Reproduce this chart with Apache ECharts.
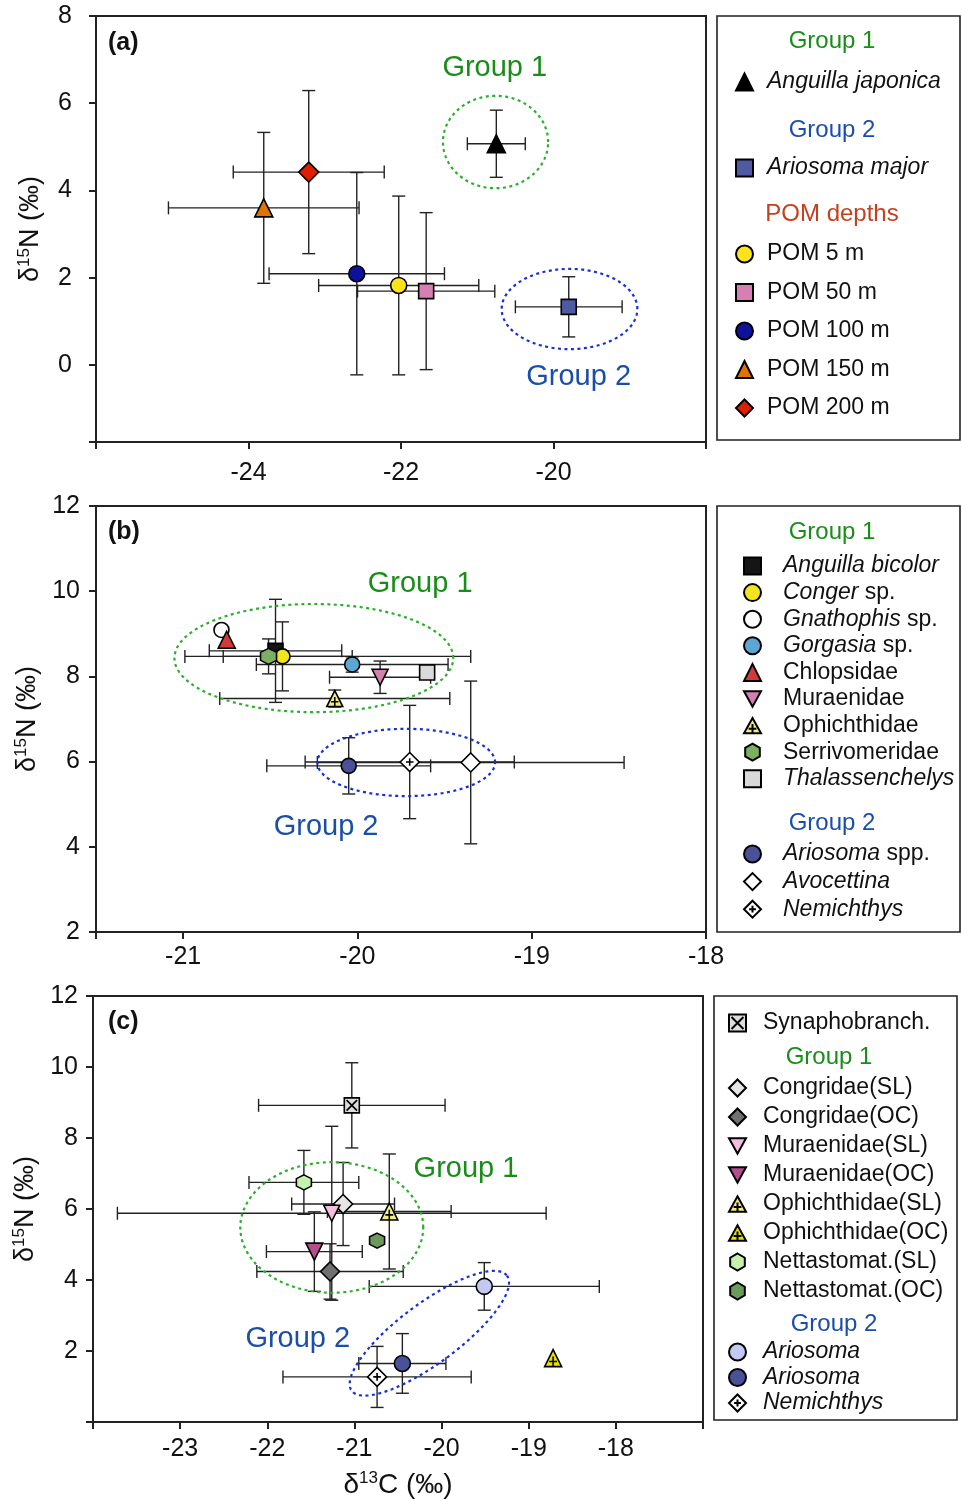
<!DOCTYPE html>
<html>
<head>
<meta charset="utf-8">
<script src="https://cdn.jsdelivr.net/npm/echarts@6/dist/echarts.min.js"></script>
<style>
html, body { margin: 0; padding: 0; background: #fff; }
#chart { width: 962px; height: 1501px; }
</style>
</head>
<body>
<div id="chart"></div>
<script>
const FONT = '"Liberation Sans", Arial, Helvetica, sans-serif';

// ---- panel (a) ----
const aNames = ['Anguilla japonica', 'Ariosoma major', 'POM 5 m', 'POM 50 m', 'POM 100 m', 'POM 150 m', 'POM 200 m'];
const aLabels = ['{i|Anguilla japonica}', '{i|Ariosoma major}', 'POM 5 m', 'POM 50 m', 'POM 100 m', 'POM 150 m', 'POM 200 m'];
const aX = [-20.75, -19.80, -22.03, -21.67, -22.58, -23.80, -23.21];
const aY = [5.07, 1.33, 1.82, 1.69, 2.09, 3.60, 4.42];
const aXErr = [0.38, 0.70, 1.05, 0.90, 1.15, 1.25, 0.99];
const aYErr = [0.77, 0.69, 2.05, 1.80, 2.32, 1.73, 1.87];
const aXTicks = [-24, -22, -20];
const aYTicks = [0, 2, 4, 6, 8];
// ellipse: centre x, centre y, then two half-axis vectors (data units)
const aEllipses = [[-20.76, 5.11, 0.69, 0, 0, 1.06], [-19.79, 1.28, 0.89, 0, 0, 0.92]];
const aNotes = [[-20.77, 6.80], [-19.67, -0.27]];

// ---- panel (b) ----
const bNames = ['Anguilla bicolor', 'Conger sp.', 'Gnathophis sp.', 'Gorgasia sp.', 'Chlopsidae', 'Muraenidae', 'Ophichthidae', 'Serrivomeridae', 'Thalassenchelys', 'Ariosoma spp.', 'Avocettina', 'Nemichthys'];
const bLabels = ['{i|Anguilla bicolor}', '{i|Conger} sp.', '{i|Gnathophis} sp.', '{i|Gorgasia} sp.', 'Chlopsidae', 'Muraenidae', 'Ophichthidae', 'Serrivomeridae', '{i|Thalassenchelys}', '{i|Ariosoma} spp.', '{i|Avocettina}', '{i|Nemichthys}'];
const bX = [-20.47, -20.43, -20.78, -20.03, -20.75, -19.87, -20.13, -20.51, -19.60, -20.05, -19.35, -19.70];
const bY = [8.60, 8.47, 9.09, 8.28, 8.86, 7.98, 7.48, 8.47, 8.09, 5.90, 5.98, 5.99];
// x error bars in (b) are not symmetric for every taxon: lower and upper parts
const bXErrLo = [0.38, 0.34, 0, 0.55, 0, 0.29, 0.66, 0.48, 0.03, 0.47, 0.88, 0.60];
const bXErrHi = [0.38, 1.08, 0, 0.55, 0, 0.29, 0.66, 0.48, 0.03, 0.47, 0.88, 0.60];
const bYErr = [1.21, 0.81, 0, 0.18, 0, 0.38, 0.20, 0.41, 0.10, 0.66, 1.91, 1.33];
const bXTicks = [-21, -20, -19, -18];
const bYTicks = [2, 4, 6, 8, 10, 12];
const bEllipses = [[-20.25, 8.43, 0.80, 0, 0, 1.27], [-19.72, 5.98, 0.51, 0, 0, 0.79]];
const bNotes = [[-19.64, 10.18], [-20.18, 4.46]];

// ---- panel (c) ----
const cNames = ['Synaphobranch.', 'Congridae(SL)', 'Congridae(OC)', 'Muraenidae(SL)', 'Muraenidae(OC)', 'Ophichthidae(SL)', 'Ophichthidae(OC)', 'Nettastomat.(SL)', 'Nettastomat.(OC)', 'Ariosoma SL', 'Ariosoma OC', 'Nemichthys'];
const cLabels = ['Synaphobranch.', 'Congridae(SL)', 'Congridae(OC)', 'Muraenidae(SL)', 'Muraenidae(OC)', 'Ophichthidae(SL)', 'Ophichthidae(OC)', 'Nettastomat.(SL)', 'Nettastomat.(OC)', '{i|Ariosoma}', '{i|Ariosoma}', '{i|Nemichthys}'];
const cX = [-21.03, -21.13, -21.28, -21.26, -21.46, -20.60, -18.72, -21.58, -20.74, -19.51, -20.45, -20.74];
const cY = [8.92, 6.14, 4.24, 5.88, 4.80, 5.93, 1.80, 6.75, 5.11, 3.82, 1.65, 1.27];
const cXErr = [1.07, 0.59, 0.84, 2.46, 0.55, 0.71, 0, 0.63, 0, 1.32, 0.50, 1.08];
const cYErr = [1.20, 1.17, 0.78, 2.45, 1.12, 1.62, 0, 0.90, 0, 0.67, 0.84, 0.86];
const cXTicks = [-23, -22, -21, -20, -19, -18];
const cYTicks = [2, 4, 6, 8, 10, 12];
const cEllipses = [[-21.26, 5.48, 1.05, 0, 0, 1.84], [-20.14, 2.50, 0.89, 1.625, 0.21, -0.67]];
const cNotes = [[-19.72, 7.12], [-21.65, 2.35]];

const noteTexts = ['Group 1', 'Group 2'];

// symbols
const INV_TRI = 'path://M0,0L10,0L5,9Z';
const HEX = 'path://M5,0L9.3,2.5L9.3,7.5L5,10L0.7,7.5L0.7,2.5Z';
const OPH = 'path://M5,0L10,9L0,9Z M5,3.6L5,9 M2.7,6.3L7.3,6.3';
const NEMI = 'path://M5,0L10,5L5,10L0,5Z M5,3L5,7 M3,5L7,5';
const XSQ = 'path://M0,0L10,0L10,10L0,10Z M1.5,1.5L8.5,8.5 M8.5,1.5L1.5,8.5';

const GREEN = '#1a8c1a';
const BLUE = '#1a4ea8';
const ellipseColors = ['#2bb02b', '#1530d6'];

const panels = [
  { key: 'a', names: aNames, labels: aLabels, x: aX, y: aY, xlo: aXErr, xhi: aXErr, ye: aYErr, ellipses: aEllipses, notes: aNotes,
    symbols: ['triangle', 'rect', 'circle', 'rect', 'circle', 'triangle', 'diamond'],
    colors: ['#000000', '#4f5aa3', '#ffe31a', '#d77fb3', '#0d119c', '#e07400', '#e01e00'],
    sizes: [18, 15, 16, 15, 16, 18, 20] },
  { key: 'b', names: bNames, labels: bLabels, x: bX, y: bY, xlo: bXErrLo, xhi: bXErrHi, ye: bYErr, ellipses: bEllipses, notes: bNotes,
    symbols: ['rect', 'circle', 'circle', 'circle', 'triangle', INV_TRI, OPH, HEX, 'rect', 'circle', 'diamond', NEMI],
    colors: ['#151515', '#f2e51f', '#ffffff', '#5aa7d3', '#d23a3a', '#d47fae', '#f1ee7c', '#7bb062', '#d9d9d9', '#4a5199', '#ffffff', '#ffffff'],
    sizes: [15, 15, 15, 15, 17, 16, 16, 16, 15, 15, 19, 19] },
  { key: 'c', names: cNames, labels: cLabels, x: cX, y: cY, xlo: cXErr, xhi: cXErr, ye: cYErr, ellipses: cEllipses, notes: cNotes,
    symbols: [XSQ, 'diamond', 'diamond', INV_TRI, INV_TRI, OPH, OPH, HEX, HEX, 'circle', 'circle', NEMI],
    colors: ['#dddddd', '#e3e6e3', '#707070', '#f5bedc', '#b24f8c', '#f2ee8a', '#e8e000', '#c4f2ad', '#6b9a59', '#c3c9f0', '#4a5199', '#ffffff'],
    sizes: [15, 19, 19, 16, 17, 17, 17, 15, 15, 16, 16, 19] }
];

const labelMap = {};
const series = [];

panels.forEach((p, g) => {
  // error bars
  series.push({
    type: 'custom', xAxisIndex: g, yAxisIndex: g, z: 3, silent: true,
    data: p.x.map((v, i) => [v, p.y[i], p.xlo[i], p.xhi[i], p.ye[i]]),
    renderItem(params, api) {
      const x = api.value(0), y = api.value(1), lo = api.value(2), hi = api.value(3), ey = api.value(4);
      const st = { stroke: '#222', lineWidth: 1.4 };
      const cap = 6.5;
      const kids = [];
      if (lo > 0 || hi > 0) {
        const l = api.coord([x - lo, y]), r = api.coord([x + hi, y]);
        kids.push({ type: 'line', shape: { x1: l[0], y1: l[1], x2: r[0], y2: r[1] }, style: st });
        kids.push({ type: 'line', shape: { x1: l[0], y1: l[1] - cap, x2: l[0], y2: l[1] + cap }, style: st });
        kids.push({ type: 'line', shape: { x1: r[0], y1: r[1] - cap, x2: r[0], y2: r[1] + cap }, style: st });
      }
      if (ey > 0) {
        const t = api.coord([x, y + ey]), b = api.coord([x, y - ey]);
        kids.push({ type: 'line', shape: { x1: t[0], y1: t[1], x2: b[0], y2: b[1] }, style: st });
        kids.push({ type: 'line', shape: { x1: t[0] - cap, y1: t[1], x2: t[0] + cap, y2: t[1] }, style: st });
        kids.push({ type: 'line', shape: { x1: b[0] - cap, y1: b[1], x2: b[0] + cap, y2: b[1] }, style: st });
      }
      return { type: 'group', children: kids };
    }
  });
  // dotted group ellipses
  series.push({
    type: 'custom', xAxisIndex: g, yAxisIndex: g, z: 4, silent: true,
    data: p.ellipses,
    renderItem(params, api) {
      const cx = api.value(0), cy = api.value(1), ux = api.value(2), uy = api.value(3), vx = api.value(4), vy = api.value(5);
      const pts = [];
      for (let k = 0; k < 96; k++) {
        const t = k / 96 * Math.PI * 2;
        pts.push(api.coord([cx + ux * Math.cos(t) + vx * Math.sin(t), cy + uy * Math.cos(t) + vy * Math.sin(t)]));
      }
      return { type: 'polygon', shape: { points: pts },
        style: { fill: 'none', stroke: ellipseColors[params.dataIndex], lineWidth: 2.2, lineDash: [3, 3.5] } };
    }
  });
  // group annotations
  series.push({
    type: 'custom', xAxisIndex: g, yAxisIndex: g, z: 6, silent: true,
    data: p.notes,
    renderItem(params, api) {
      const c = api.coord([api.value(0), api.value(1)]);
      return { type: 'text', x: c[0], y: c[1],
        style: { text: noteTexts[params.dataIndex], fill: params.dataIndex === 0 ? GREEN : BLUE,
          font: '29px ' + FONT, align: 'center', verticalAlign: 'middle', textAlign: 'center', textVerticalAlign: 'middle' } };
    }
  });
  // points
  p.names.forEach((n, i) => {
    const id = p.key + ':' + n;
    labelMap[id] = p.labels[i];
    series.push({
      type: 'scatter', name: id, xAxisIndex: g, yAxisIndex: g, z: 8,
      data: [[p.x[i], p.y[i]]],
      symbol: p.symbols[i], symbolSize: p.sizes[i], symbolKeepAspect: false,
      itemStyle: { color: p.colors[i], borderColor: '#000', borderWidth: 1.6, opacity: 1 }
    });
  });
});

function ids(key, names) { return names.map(n => key + ':' + n); }

const legendText = {
  fontSize: 23, fontFamily: FONT, color: '#111', lineHeight: 24,
  rich: { i: { fontStyle: 'italic', fontSize: 23, fontFamily: FONT, color: '#111', lineHeight: 24 } }
};
function legend(data, left, top, gap, pad) {
  return {
    data, left, top, orient: 'vertical', itemGap: gap, itemWidth: 17, itemHeight: 17, padding: 0,
    selectedMode: false, formatter: name => labelMap[name],
    textStyle: Object.assign({ padding: [0, 0, 0, pad] }, legendText)
  };
}

const legends = [
  legend(ids('a', aNames.slice(0, 1)), 735, 70, 10, 9),
  legend(ids('a', aNames.slice(1, 2)), 735, 156, 10, 9),
  legend(ids('a', aNames.slice(2)), 735, 242, 14.5, 9),
  legend(ids('b', bNames.slice(0, 9)), 743, 554, 2.6, 17),
  legend(ids('b', bNames.slice(9)), 743, 842, 3.6, 17),
  legend(ids('c', cNames.slice(0, 1)), 728, 1011, 5, 12),
  legend(ids('c', cNames.slice(1, 9)), 728, 1076, 5, 12),
  legend(ids('c', cNames.slice(9)), 728, 1340, 1.5, 12)
];

const gridBase = { show: true, borderColor: '#222', borderWidth: 2, backgroundColor: 'transparent' };
const grids = [
  Object.assign({ left: 96, top: 16, width: 610, height: 426 }, gridBase),
  Object.assign({ left: 96, top: 506, width: 610, height: 426 }, gridBase),
  Object.assign({ left: 93, top: 996, width: 610, height: 426 }, gridBase)
];

const axisLineStyle = { color: '#222', width: 2 };
function xAxis(g, opts, ticks, margin) {
  return Object.assign({
    gridIndex: g, type: 'value', splitLine: { show: false },
    axisLine: { show: true, onZero: false, lineStyle: axisLineStyle },
    axisTick: { show: true, length: 7, lineStyle: axisLineStyle },
    axisLabel: { margin, fontSize: 25, fontFamily: FONT, color: '#111',
      formatter: v => ticks.some(t => Math.abs(t - v) < 1e-6) ? String(v) : '' }
  }, opts);
}
function yAxis(g, opts, ticks, margin) {
  return Object.assign({
    gridIndex: g, type: 'value', splitLine: { show: false },
    axisLine: { show: true, onZero: false, lineStyle: axisLineStyle },
    axisTick: { show: true, length: 7, lineStyle: axisLineStyle },
    axisLabel: { margin, fontSize: 25, fontFamily: FONT, color: '#111',
      formatter: v => ticks.some(t => Math.abs(t - v) < 1e-6) ? String(v) : '' },
    name: '{d|δ}{s|15}{d|N (‰)}', nameLocation: 'middle', nameRotate: 90, nameGap: 50,
    nameTextStyle: { rich: {
      d: { fontSize: 27, fontFamily: FONT, color: '#111', lineHeight: 30 },
      s: { fontSize: 17, fontFamily: FONT, color: '#111', lineHeight: 14, verticalAlign: 'top' } } }
  }, opts);
}

const xAxes = [
  xAxis(0, { min: -26, max: -18, interval: 2 }, aXTicks, 19),
  xAxis(1, { min: -21.5, max: -18, splitNumber: 3 }, bXTicks, 13),
  xAxis(2, { min: -24, max: -17, interval: 1,
    name: '{d|δ}{s|13}{d|C (‰)}', nameLocation: 'middle', nameGap: 48,
    nameTextStyle: { rich: {
      d: { fontSize: 28, fontFamily: FONT, color: '#111', lineHeight: 30 },
      s: { fontSize: 17, fontFamily: FONT, color: '#111', lineHeight: 14, verticalAlign: 'top' } } } }, cXTicks, 15)
];
const yAxes = [
  yAxis(0, { min: -1.77, max: 8, splitNumber: 5 }, aYTicks, 24),
  yAxis(1, { min: 2, max: 12, interval: 2 }, bYTicks, 16),
  yAxis(2, { min: 0, max: 12, interval: 2 }, cYTicks, 15)
];

function boxRect(x, y, w, h) {
  return { type: 'rect', shape: { x, y, width: w, height: h }, style: { fill: 'none', stroke: '#222', lineWidth: 1.6 }, z: 1 };
}
function heading(text, x, y, color) {
  return { type: 'text', x, y, z: 10,
    style: { text, fill: color, font: '24px ' + FONT, textAlign: 'center', textVerticalAlign: 'middle', align: 'center', verticalAlign: 'middle' } };
}
function panelTag(text, x, y) {
  return { type: 'text', x, y, z: 10,
    style: { text, fill: '#111', font: 'bold 25px ' + FONT, textAlign: 'left', textVerticalAlign: 'middle', align: 'left', verticalAlign: 'middle' } };
}

const graphics = [
  boxRect(717, 16, 243, 424),
  boxRect(717, 506, 243, 426),
  boxRect(714, 996, 243, 424),
  heading('Group 1', 832, 41, GREEN),
  heading('Group 2', 832, 130, BLUE),
  heading('POM depths', 832, 214, '#c5401f'),
  heading('Group 1', 832, 532, GREEN),
  heading('Group 2', 832, 823, BLUE),
  heading('Group 1', 829, 1057, GREEN),
  heading('Group 2', 834, 1324, BLUE),
  panelTag('(a)', 108, 43),
  panelTag('(b)', 108, 532),
  panelTag('(c)', 108, 1022)
];

const chart = echarts.init(document.getElementById('chart'));
chart.setOption({
  animation: false,
  backgroundColor: '#fff',
  textStyle: { fontFamily: FONT },
  grid: grids,
  xAxis: xAxes,
  yAxis: yAxes,
  legend: legends,
  graphic: graphics,
  series
});
</script>
</body>
</html>
